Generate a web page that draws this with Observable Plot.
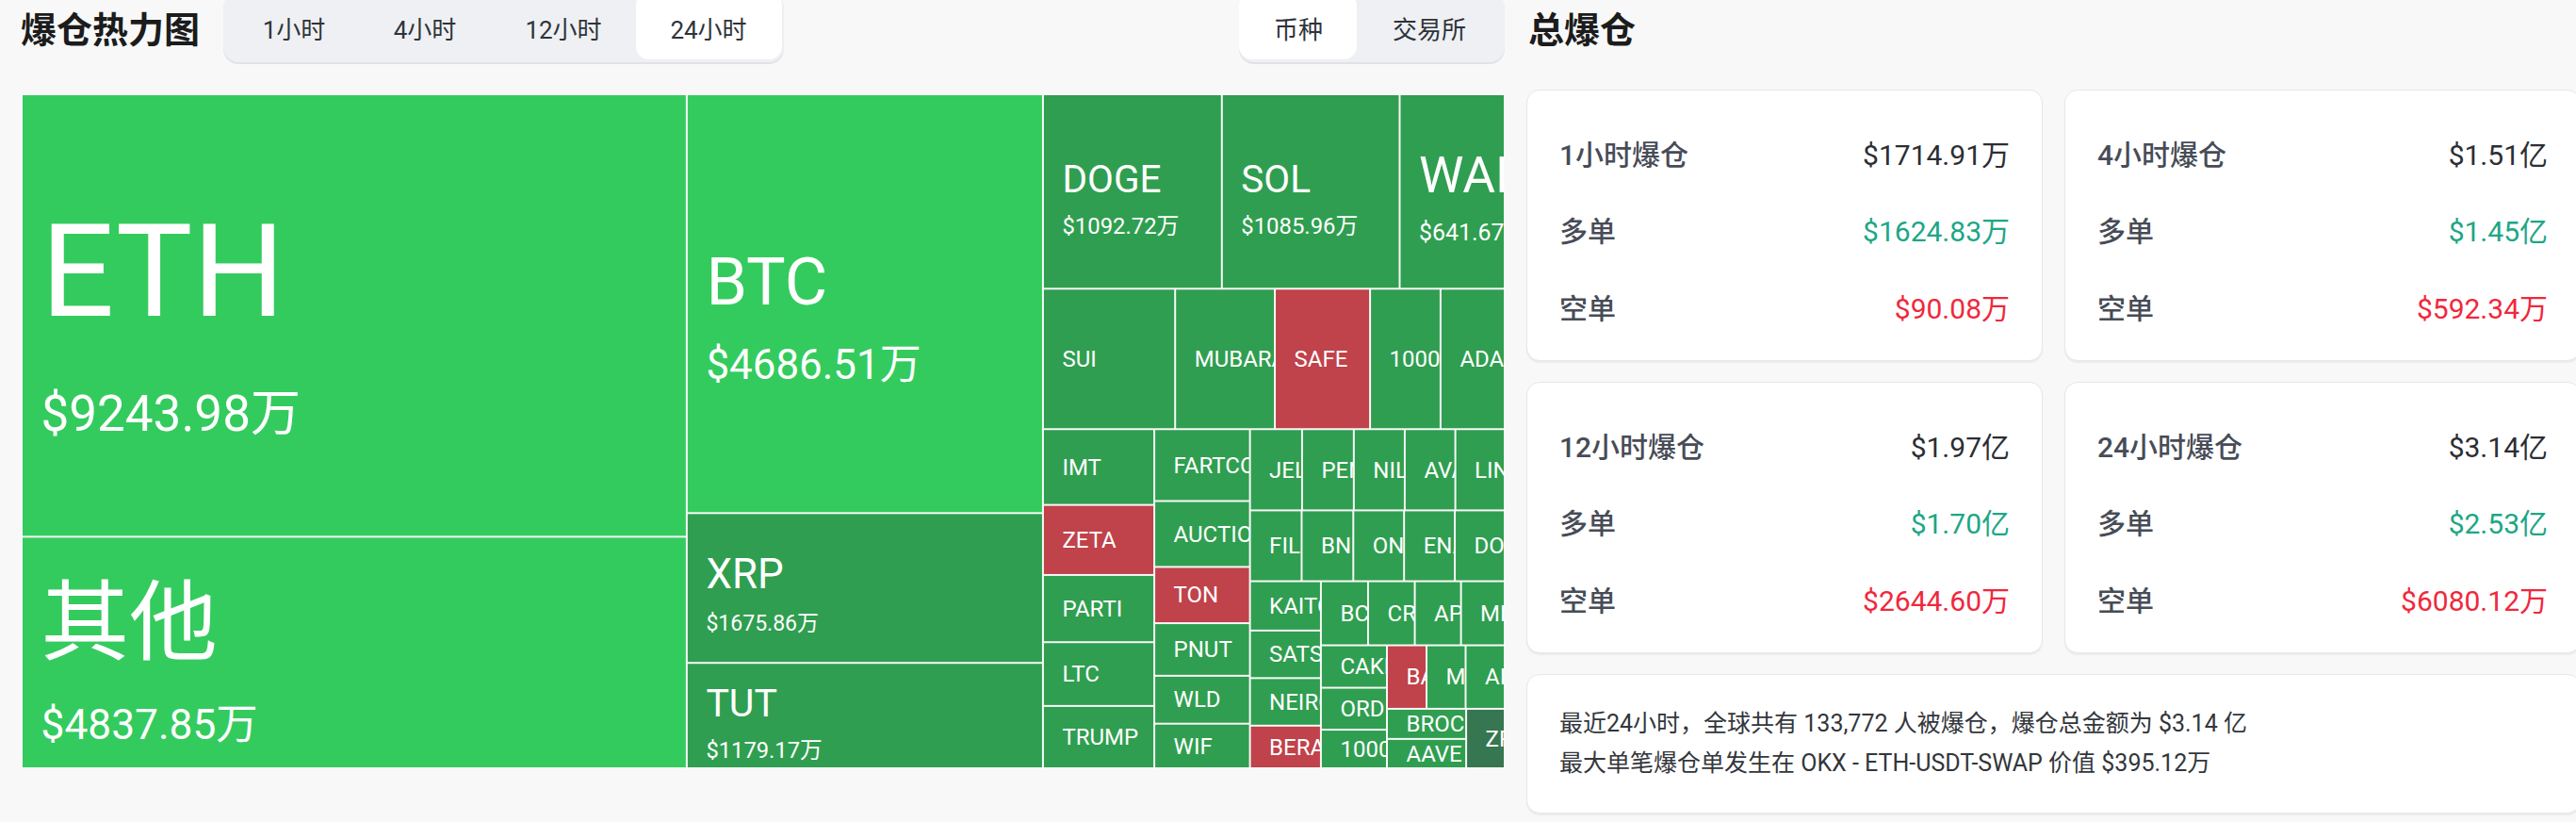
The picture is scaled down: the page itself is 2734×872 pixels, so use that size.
<!DOCTYPE html>
<html><head><meta charset="utf-8">
<script src="https://cdn.jsdelivr.net/npm/d3@7"></script>
<script src="https://cdn.jsdelivr.net/npm/@observablehq/plot@0.6"></script>
<style>
html,body{margin:0;padding:0;}
body{width:2734px;height:872px;overflow:hidden;background:#f8f8f8;position:relative;font-family:Roboto,"Noto Sans CJK SC",sans-serif;}
.h1{position:absolute;font-family:"Noto Sans CJK SC",sans-serif;font-weight:700;font-size:38px;line-height:38px;color:#1c1c1c;white-space:nowrap;}
.tabs{position:absolute;top:-8px;height:74px;background:#eef0f3;border-radius:16px;box-shadow:0 2px 0 #e1e2e5;}
.pill{position:absolute;top:0;height:71px;background:#fff;border-radius:14px;}
.tab{position:absolute;height:58px;line-height:58px;font-size:26px;color:#2f3339;transform:translateX(-50%);white-space:nowrap;}
.card{position:absolute;background:#fff;border:1.5px solid #e7e7e9;border-radius:14px;box-shadow:0 2px 1px rgba(0,0,0,0.05);box-sizing:border-box;}
.row{position:absolute;left:34px;right:34px;height:40px;line-height:40px;font-size:30px;display:flex;justify-content:space-between;white-space:nowrap;}
.lab{color:#474c57;font-weight:500}
.val{color:#2b2e34}
.up{color:#1da687}
.down{color:#f0283c}
.note{position:absolute;left:34px;font-size:25px;line-height:32px;color:#33363b;white-space:nowrap;}
#tm{position:absolute;left:23px;top:100px;}
</style></head><body>
<div class="h1" style="left:22px;top:10px">爆仓热力图</div>
<div class="tabs" style="left:237px;width:595px" id="tabsL"><div class="pill" style="left:438px;width:155px"></div></div>
<div class="tabs" style="left:1315px;width:282px" id="tabsR"><div class="pill" style="left:0;width:125px"></div></div>
<div class="h1" style="left:1622px;top:10px">总爆仓</div>
<div id="tm"></div>
<div id="cards"></div>
<script>
// ---- data ----
const names = ["ETH","其他","BTC","XRP","TUT","DOGE","SOL","WAL","SUI","MUBARAK","SAFE","1000PEPE","ADA",
  "IMT","ZETA","PARTI","LTC","TRUMP","FARTCOIN","AUCTION","TON","PNUT","WLD","WIF",
  "JELLYJELLY","PENGU","NIL","AVAX","LINK","FIL","BNB","ONDO","ENA","DOT",
  "KAITO","SATS","NEIRO","BERA","BCH","CRV","APT","MELANIA","CAKE","ORDI","1000BONK",
  "BANANA","MOVE","AI16Z","BROCCOLI","AAVE","ZRO"];
const values = [9243.98,4837.85,4686.51,1675.86,1179.17,1092.72,1085.96,641.67,583,440,420,311,283,
  265,245,235,223,218,216,198,169,158,144,134,
  133,132,130,129,126,115,115,113,113,111,
  110,106,106,95,95,94,93,88,88,87,80,
  79,78,78,75,73,72];
const strongLong = ["ETH","其他","BTC"];
const shortSide = ["SAFE","ZETA","TON","BERA","BANANA"];
const neutralSide = ["ZRO"];
const toneDomain = ["强多","多","空","中性"];

const tabsLeft = ["1小时","4小时","12小时","24小时"];
const tabsRight = ["币种","交易所"];
const periods = ["1小时爆仓","4小时爆仓","12小时爆仓","24小时爆仓"];
const totals = ["$1714.91万","$1.51亿","$1.97亿","$3.14亿"];
const longs = ["$1624.83万","$1.45亿","$1.70亿","$2.53亿"];
const shorts = ["$90.08万","$592.34万","$2644.60万","$6080.12万"];
const noteLines = ["最近24小时，全球共有 133,772 人被爆仓，爆仓总金额为 $3.14 亿",
  "最大单笔爆仓单发生在 OKX - ETH-USDT-SWAP 价值 $395.12万"];

// ---- header tabs ----
const tabLX = [312-237, 451-237, 598-237, 752-237];
tabsLeft.forEach((t,i)=>{const e=document.createElement("div");e.className="tab";e.style.left=tabLX[i]+"px";e.style.top="11px";e.textContent=t;document.getElementById("tabsL").appendChild(e);});
const tabRX = [1378-1315, 1517-1315];
tabsRight.forEach((t,i)=>{const e=document.createElement("div");e.className="tab";e.style.left=tabRX[i]+"px";e.style.top="11px";e.textContent=t;document.getElementById("tabsR").appendChild(e);});

// ---- cards ----
const cardPos = [[1620,95],[2191,95],[1620,405],[2191,405]];
const cardsEl = document.getElementById("cards");
periods.forEach((p,i)=>{
  const c=document.createElement("div");c.className="card";
  c.style.left=cardPos[i][0]+"px";c.style.top=cardPos[i][1]+"px";c.style.width="548px";c.style.height="288px";
  const rows=[[p,totals[i],"val"],["多单",longs[i],"up"],["空单",shorts[i],"down"]];
  [49,130,212].forEach((top,r)=>{
    const row=document.createElement("div");row.className="row";row.style.top=top+"px";
    row.innerHTML=`<span class="lab">${rows[r][0]}</span><span class="${rows[r][2]}">${rows[r][1]}</span>`;
    c.appendChild(row);
  });
  cardsEl.appendChild(c);
});
const nc=document.createElement("div");nc.className="card";
nc.style.cssText="left:1620px;top:715px;width:1119px;height:148px";
noteLines.forEach((t,i)=>{const d=document.createElement("div");d.className="note";d.style.top=(36+i*42)+"px";d.textContent=t;nc.appendChild(d);});
cardsEl.appendChild(nc);

// ---- treemap ----
const W = 1574, H = 715;
const FONT = "Roboto, 'Noto Sans CJK SC', sans-serif";
const root = d3.treemap().size([W, H]).tile(d3.treemapSquarify)(
  d3.hierarchy({children: names.map((name, i) => ({name, value: values[i]}))})
    .sum(d => d.value || 0)
    .sort((a, b) => b.value - a.value));
const tone = n => strongLong.includes(n) ? "强多" : shortSide.includes(n) ? "空" : neutralSide.includes(n) ? "中性" : "多";
const cells = root.leaves().map(l => ({name: l.data.name, value: l.data.value, tone: tone(l.data.name), x0: l.x0, x1: l.x1, y0: l.y0, y1: l.y1}));
const big = cells.filter(d => d.value >= 600);
const small = cells.filter(d => d.value < 600);
const nameSize = d3.scaleLinear().domain([600,1000,1700,4700,9244]).range([55,40,44,70,137]);
const valueSize = d3.scaleLinear().domain([600,1000,1700,4700,9244]).range([25,24,23,44,53]);
const nf = d => nameSize(d.value) * (/[\u4e00-\u9fff]/.test(d.name) ? 1.3 : 1);
const vf = d => valueSize(d.value);
const cx = d => d.x0 + 20;
const cy = d => (d.y0 + d.y1) / 2;
const vy = d => cy(d) + 0.5 * nf(d) + vf(d);

const chart = Plot.plot({
  width: W, height: H, margin: 0,
  style: {background: "transparent", overflow: "visible"},
  x: {type: "identity", axis: null}, y: {type: "identity", axis: null},
  color: {domain: toneDomain, range: ["#34cb5e","#2f9e50","#c0424a","#367650"]},
  marks: [
    Plot.rect(cells, {x1: "x0", x2: "x1", y1: "y0", y2: "y1", fill: "tone", inset: 1}),
    Plot.text(small, {x: cx, y: cy, text: "name", textAnchor: "start", lineAnchor: "middle", fill: "white", fontSize: 24, fontFamily: FONT}),
    Plot.text(big, {x: cx, y: cy, text: "name", textAnchor: "start", lineAnchor: "bottom", fill: "white", fontSize: nf, fontFamily: FONT}),
    Plot.text(big, {x: cx, y: vy, text: d => "$" + d.value.toFixed(2) + "万", textAnchor: "start", lineAnchor: "bottom", fill: "white", fontSize: vf, fontFamily: FONT})
  ]
});
document.getElementById("tm").appendChild(chart);

// clip each label to its own cell
const svg = d3.select(chart);
const defs = svg.insert("defs", ":first-child");
const groups = svg.selectAll('g[aria-label="text"]').nodes();
[small, big, big].forEach((arr, j) => {
  d3.select(groups[j]).selectAll("text").each(function(_, k) {
    const d = arr[k]; if (!d) return;
    let tx = 0, ty = 0;
    const t = this.getAttribute("transform");
    if (t) { const m = /translate\(\s*([-\d.e]+)[\s,]*([-\d.e]+)?\s*\)/.exec(t); if (m) { tx = +m[1]; ty = +(m[2] || 0); } }
    const id = `clip-${j}-${k}`;
    defs.append("clipPath").attr("id", id).append("rect")
      .attr("x", d.x0 - tx).attr("y", d.y0 - ty)
      .attr("width", Math.max(0, d.x1 - d.x0 - 1)).attr("height", Math.max(0, d.y1 - d.y0));
    this.setAttribute("clip-path", `url(#${id})`);
  });
});
</script>
</body></html>
